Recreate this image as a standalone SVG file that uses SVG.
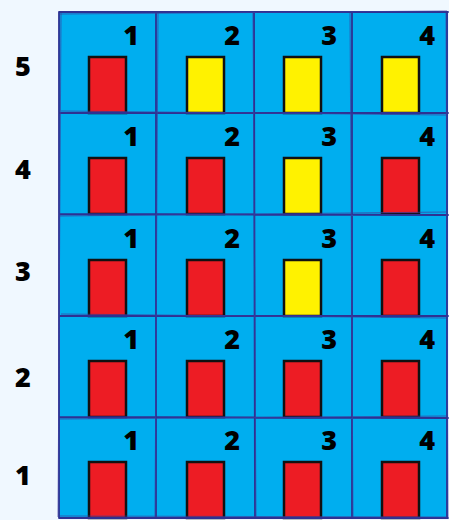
<svg xmlns="http://www.w3.org/2000/svg" width="449" height="520" viewBox="0 0 449 520">
<style>
.cell{fill:#00aeef}
.door{stroke:#111;stroke-width:2.5}
.red{fill:#ed1c24}
.yel{fill:#fff200}
.num{font-family:"Open Sans","Liberation Sans",sans-serif;font-weight:800;font-size:27px;fill:#000;text-anchor:end}
.lbl{font-family:"Open Sans","Liberation Sans",sans-serif;font-weight:800;font-size:27px;fill:#000;text-anchor:middle}
.grid{stroke:#2e3192;stroke-width:1.8;fill:none;stroke-linecap:round}
.grid2{stroke:#3a3d9e;stroke-width:1;fill:none;opacity:0.7}
</style>
<rect width="449" height="520" fill="#f0f8ff"/>
<rect x="59" y="12" width="389" height="506" class="cell"/>
<g id="row-labels">
<text class="lbl" x="23" y="76">5</text>
<text class="lbl" x="23" y="179">4</text>
<text class="lbl" x="23" y="281">3</text>
<text class="lbl" x="23" y="387">2</text>
<text class="lbl" x="23" y="485">1</text>
</g>
<g id="r5c1"><rect class="door red" x="89" y="57" width="37" height="56"/><text class="num" x="139" y="45">1</text></g>
<g id="r5c2"><rect class="door yel" x="187" y="57" width="37" height="56"/><text class="num" x="240" y="45">2</text></g>
<g id="r5c3"><rect class="door yel" x="284" y="57" width="37" height="56"/><text class="num" x="337" y="45">3</text></g>
<g id="r5c4"><rect class="door yel" x="382" y="57" width="37" height="56"/><text class="num" x="435" y="45">4</text></g>
<g id="r4c1"><rect class="door red" x="89" y="158" width="37" height="56"/><text class="num" x="139" y="146">1</text></g>
<g id="r4c2"><rect class="door red" x="187" y="158" width="37" height="56"/><text class="num" x="240" y="146">2</text></g>
<g id="r4c3"><rect class="door yel" x="284" y="158" width="37" height="56"/><text class="num" x="337" y="146">3</text></g>
<g id="r4c4"><rect class="door red" x="382" y="158" width="37" height="56"/><text class="num" x="435" y="146">4</text></g>
<g id="r3c1"><rect class="door red" x="89" y="260" width="37" height="56"/><text class="num" x="139" y="248">1</text></g>
<g id="r3c2"><rect class="door red" x="187" y="260" width="37" height="56"/><text class="num" x="240" y="248">2</text></g>
<g id="r3c3"><rect class="door yel" x="284" y="260" width="37" height="56"/><text class="num" x="337" y="248">3</text></g>
<g id="r3c4"><rect class="door red" x="382" y="260" width="37" height="56"/><text class="num" x="435" y="248">4</text></g>
<g id="r2c1"><rect class="door red" x="89" y="361" width="37" height="56"/><text class="num" x="139" y="349">1</text></g>
<g id="r2c2"><rect class="door red" x="187" y="361" width="37" height="56"/><text class="num" x="240" y="349">2</text></g>
<g id="r2c3"><rect class="door red" x="284" y="361" width="37" height="56"/><text class="num" x="337" y="349">3</text></g>
<g id="r2c4"><rect class="door red" x="382" y="361" width="37" height="56"/><text class="num" x="435" y="349">4</text></g>
<g id="r1c1"><rect class="door red" x="89" y="462" width="37" height="56"/><text class="num" x="139" y="450">1</text></g>
<g id="r1c2"><rect class="door red" x="187" y="462" width="37" height="56"/><text class="num" x="240" y="450">2</text></g>
<g id="r1c3"><rect class="door red" x="284" y="462" width="37" height="56"/><text class="num" x="337" y="450">3</text></g>
<g id="r1c4"><rect class="door red" x="382" y="462" width="37" height="56"/><text class="num" x="435" y="450">4</text></g>
<g id="grid-lines">
<path class="grid" d="M59 12 L448 12 M59 113 L448 113 M59 214 L448 215 M59 316 L448 316 M59 417 L448 418 M59 518 L448 518 M59 12 L59 518 M156 12 L156 518 M254 12 L255 518 M352 12 L352 518 M447 12 L447 518"/>
<path class="grid2" d="M60 14 L447 11 M61 111 L446 115 M60 216 L447 212 M61 314 L446 318 M60 419 L447 416 M60 516 L447 517 M61 13 L58 517 M158 13 L155 517 M253 13 L256 517 M350 13 L353 517 M446 13 L448 517"/>
</g>
</svg>
